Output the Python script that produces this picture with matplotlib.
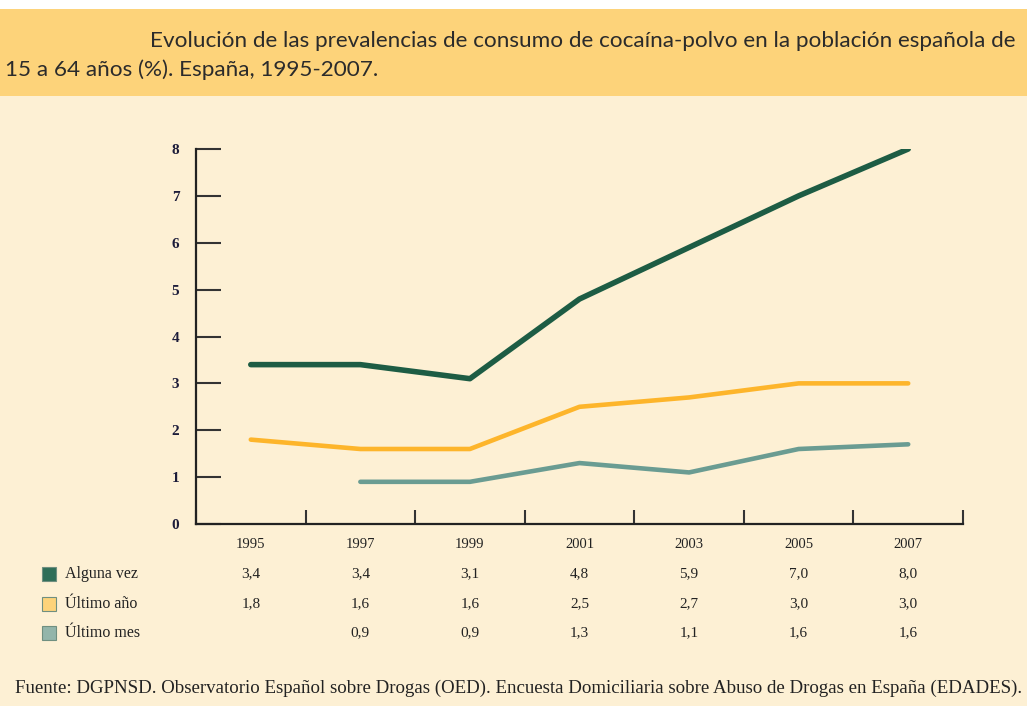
import numpy as np
import matplotlib.pyplot as plt
import matplotlib.transforms as mtransforms
from matplotlib.patches import Rectangle

years = ["1995", "1997", "1999", "2001", "2003", "2005", "2007"]
alguna_vez = [3.4, 3.4, 3.1, 4.8, 5.9, 7.0, 8.0]
ultimo_ano = [1.8, 1.6, 1.6, 2.5, 2.7, 3.0, 3.0]
ultimo_mes = [np.nan, 0.9, 0.9, 1.3, 1.1, 1.6, 1.7]

series_names = ["Alguna vez", "Último año", "Último mes"]
table_rows = [
    ["3,4", "3,4", "3,1", "4,8", "5,9", "7,0", "8,0"],
    ["1,8", "1,6", "1,6", "2,5", "2,7", "3,0", "3,0"],
    ["", "0,9", "0,9", "1,3", "1,1", "1,6", "1,6"],
]

W, H = 1027, 706
bg = "#fdf0d4"
band = "#fdd37a"
line_cols = ["#1d5c44", "#fdb52b", "#6a9c92"]
box_cols = ["#2f6e58", "#fdd37a", "#93b5aa"]
serif = "Liberation Serif"

fig = plt.figure(figsize=(W / 100, H / 100), dpi=100)
fig.patch.set_facecolor(bg)

# title band
fig.patches.append(Rectangle((0, 1 - 96 / H), 1, 87 / H, transform=fig.transFigure,
                             facecolor=band, edgecolor="none", zorder=0))
fig.patches.append(Rectangle((0, 1 - 9 / H), 1, 9 / H, transform=fig.transFigure,
                             facecolor="white", edgecolor="none", zorder=0))
fig.text(150 / W, 1 - 41 / H,
         "Evolución de las prevalencias de consumo de cocaína-polvo en la población española de",
         fontsize=16.2, family="Lato", color="#2b2b2b", va="center", ha="left")
fig.text(5 / W, 1 - 70 / H, "15 a 64 años (%). España, 1995-2007.",
         fontsize=16.2, family="Lato", color="#2b2b2b", va="center", ha="left")

ax = fig.add_axes([196 / W, 1 - 524 / H, (963 - 196) / W, (524 - 149) / H])
ax.set_facecolor("none")
x = np.arange(len(years))
ax.plot(x, alguna_vez, color=line_cols[0], lw=4, solid_capstyle="round")
ax.plot(x, ultimo_ano, color=line_cols[1], lw=3.3, solid_capstyle="round")
ax.plot(x, ultimo_mes, color=line_cols[2], lw=3.3, solid_capstyle="round")

ax.set_xlim(-0.5, len(years) - 0.5)
ax.set_ylim(0, 8)
for s in ["top", "right"]:
    ax.spines[s].set_visible(False)
for s in ["left", "bottom"]:
    ax.spines[s].set_linewidth(1.6)
    ax.spines[s].set_color("#222222")

ax.set_yticks(range(0, 9))
ax.tick_params(axis="y", direction="in", length=18, width=1.5, color="#333333",
               pad=12, labelsize=11, labelcolor="#1c1c3a")
for lab in ax.get_yticklabels():
    lab.set_family(serif)
    lab.set_fontweight("bold")
ax.set_xticks(np.arange(-0.5, len(years)))
ax.set_xticklabels([])
ax.tick_params(axis="x", direction="in", length=10, width=1.5, color="#333333")

# data table under the chart
trans = mtransforms.blended_transform_factory(ax.transData, fig.transFigure)
for i, yr in enumerate(years):
    ax.text(i, 1 - 545 / H, yr, transform=trans, ha="center", va="center",
            family=serif, fontsize=10.5, color="#222222", clip_on=False)
row_y = [574, 604, 633]
for r, (name, vals) in enumerate(zip(series_names, table_rows)):
    yy = 1 - row_y[r] / H
    fig.patches.append(Rectangle((42 / W, yy - 7 / H), 14 / W, 14 / H, transform=fig.transFigure,
                                 facecolor=box_cols[r], edgecolor="#6f8f80", lw=0.8))
    fig.text(65 / W, yy, name, family=serif, fontsize=11.5, color="#222222",
             va="center", ha="left")
    for i, v in enumerate(vals):
        ax.text(i, yy, v, transform=trans, ha="center", va="center",
                family=serif, fontsize=11, color="#222222", clip_on=False)

fig.text(15 / W, 1 - 688 / H,
         "Fuente: DGPNSD. Observatorio Español sobre Drogas (OED). Encuesta Domiciliaria sobre Abuso de Drogas en España (EDADES).",
         family=serif, fontsize=13.6, color="#222222", va="center", ha="left")

fig.savefig("out.png", dpi=100, facecolor=fig.get_facecolor())
